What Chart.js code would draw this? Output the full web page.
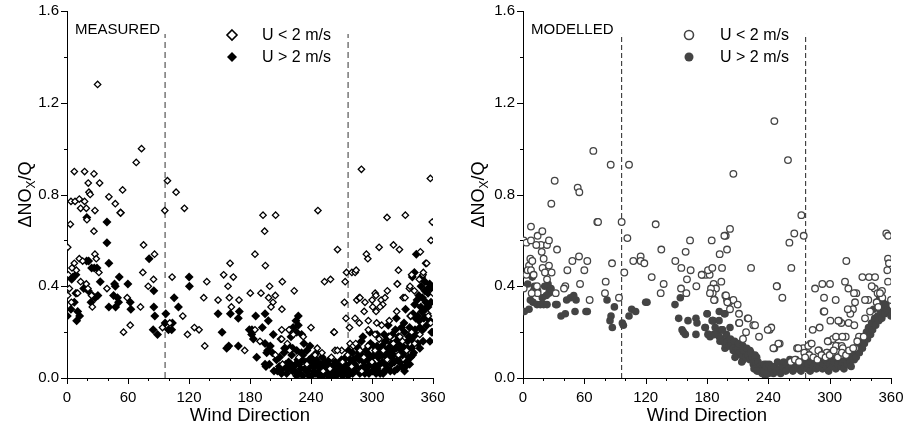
<!DOCTYPE html>
<html><head><meta charset="utf-8">
<script src="https://cdn.jsdelivr.net/npm/chart.js@4/dist/chart.umd.min.js"></script>
<style>
html,body{margin:0;padding:0;background:#fff;}
#wrap{position:relative;width:903px;height:430px;overflow:hidden;}
.box{position:absolute;top:0;height:430px;}
#b1{left:0;width:451px;} #b2{left:451px;width:452px;}
</style></head><body>
<div id="wrap"><div class="box" id="b1"><canvas id="c1" width="451" height="430"></canvas></div><div class="box" id="b2"><canvas id="c2" width="452" height="430"></canvas></div></div>
<script>
// ---- tick labels / categories ----
const xMajor=[0,60,120,180,240,300,360];
const xMinor=[20,40,80,100,140,160,200,220,260,280,320,340];
const yMajor=[0,0.4,0.8,1.2,1.6];
const yMinor=[0.2,0.6,1.0,1.4];
const dividerDirections=[96.5,276.5];
const dividerTop=1.5;
const seriesLabels=['U < 2 m/s','U > 2 m/s'];
const panelLabels=['MEASURED','MODELLED'];

// ---- MEASURED, U < 2 m/s  [wind direction, dNOx/Q] ----
const measuredCalm=[[0.7,0.57],[3.3,0.67],[3.9,0.77],[7.9,0.77],[7.2,0.90],[17.3,0.90],[26.5,0.89],[20.9,0.85],[32.1,0.85],[12.1,0.78],[17.3,0.77],[13.4,0.74],[19.0,0.74],[21.6,0.81],[22.8,0.80],[27.5,0.73],[41.2,0.79],[47.5,0.76],[54.7,0.82],[52.7,0.72],[30.1,1.28],[68.1,0.94],[73.3,1.00],[19.6,0.69],[26.5,0.64],
[1.3,0.45],[2.3,0.39],[0.7,0.36],[7.2,0.50],[4.9,0.48],[9.2,0.47],[12.1,0.52],[15.4,0.51],[13.4,0.42],[10.5,0.37],[19.0,0.41],[27.5,0.54],[28.8,0.52],[31.4,0.46],[24.9,0.31],[24.2,0.36],[39.3,0.39],[4.3,0.33],[20.6,0.39],
[75.3,0.58],[86.1,0.54],[74.6,0.46],[85.1,0.43],[79.9,0.40],[72.3,0.31],[55.6,0.20],[62.2,0.23],[59.2,0.35],
[96.2,0.73],[98.8,0.86],[107.3,0.81],[115.5,0.74],[103.4,0.44],[101.1,0.24],[93.9,0.22],[113.9,0.27],[118.5,0.19],[125.3,0.22],[129.9,0.21],[135.5,0.14],[134.5,0.35],[137.5,0.42],
[148.6,0.34],[154.1,0.45],[160.4,0.50],[158.4,0.40],[163.6,0.44],[159.7,0.35],[161.7,0.31],[169.2,0.34],[174.8,0.12],[184.9,0.54],[180.3,0.37],[190.8,0.37],[192.8,0.71],[194.4,0.64],[195.1,0.49],[205.2,0.71],[199.3,0.40],[198.3,0.35],[202.6,0.33],[204.9,0.36],[211.8,0.42],[211.4,0.30],[219.3,0.21],[223.5,0.38],[210.1,0.17],[216.7,0.15],
[200.7,0.31],[211.2,0.21],[211.2,0.17],[218.4,0.21],[222.6,0.19],[240.0,0.22],[232.4,0.18],[184.9,0.21],[189.8,0.16],
[246.8,0.73],[253.3,0.42],[259.2,0.43],[266.1,0.56],[262.5,0.20],[272.9,0.33],[273.6,0.42],[274.9,0.46],[277.9,0.22],[280.2,0.46],[283.4,0.46],[289.6,0.91],[284.4,0.47],[285.1,0.34],[287.4,0.35],[292.3,0.29],[294.5,0.54],[295.9,0.52],[300.1,0.34],[303.1,0.37],[307.0,0.57],[304.0,0.29],[309.0,0.34],[310.6,0.32],[314.8,0.70],[321.1,0.58],[327.0,0.56],[326.0,0.47],[325.0,0.41],[332.8,0.71],[336.8,0.39],[330.6,0.35],[339.4,0.45],[347.6,0.55],[341.7,0.38],[352.8,0.50],[350.2,0.45],[357.4,0.87],[359.3,0.68],[358.0,0.60],[360,0.37],[357.7,0.24],[354.8,0.28],
[274.4,0.26],[262.9,0.20],[246.2,0.13],[250.8,0.11],[278.4,0.15],[283.3,0.26],[287.5,0.24],[288.2,0.35],[293.1,0.33],[296.4,0.25],[300.7,0.31],[303.9,0.36],[307.9,0.31],[312.8,0.35],[315.1,0.38],[304.6,0.24],[309.5,0.23],[317.0,0.25],[303.0,0.19],[296.4,0.21],[324.3,0.29],[324.9,0.41],[332.5,0.35],[337.4,0.40],[339.0,0.45],[346.5,0.43],[350.5,0.46],[353.8,0.50],[355.4,0.27],[281.6,0.14],[258.7,0.04],[289.9,0.03],[299.7,0.12],[317.7,0.18],[321.0,0.15],[311.1,0.12],[327.5,0.18],[339.0,0.20],[288.2,0.12],[270.2,0.12],[263.6,0.12],
[205,0.10],[212,0.06],[219,0.12],[228,0.09],[236,0.06],[244,0.10],[252,0.03],[260,0.09],[266,0.12],[271,0.07],[276,0.10],[280,0.05],[284,0.15],[292,0.09],[296,0.14],[300,0.07],[303,0.12],[307,0.17],[315,0.08],[326,0.10],[330,0.16],[334,0.12],[338,0.27],[342,0.15],[347,0.19]];

// ---- MEASURED, U > 2 m/s ----
const measuredWindy=[[0.3,0.27],[3.9,0.30],[7.2,0.33],[9.5,0.25],[10.5,0.29],[12.4,0.27],[8.8,0.37],[5.9,0.44],[8.8,0.45],[4.6,0.43],[19.3,0.51],[21.3,0.51],[19.5,0.70],[16.4,0.39],[19.0,0.39],[20.9,0.38],[23.6,0.33],[24.9,0.36],[27.8,0.35],[30.4,0.36],[26.8,0.48],[29.5,0.48],[24.2,0.48],[32.7,0.42],[41.2,0.31],[39.3,0.68],[39.3,0.59],[41.2,0.50],[47.5,0.40],[45.8,0.36],[49.7,0.35],[47.8,0.31],[51.4,0.44],[50.7,0.33],[46.8,0.41],[52.7,0.72],[59.9,0.41],[62.2,0.33],[62.8,0.30],[80.8,0.52],[85.4,0.38],[85.4,0.31],[86.4,0.27],[84.8,0.21],[89.0,0.19],[97.2,0.28],[96.5,0.24],[103.7,0.24],[105.4,0.35],[109.6,0.31],[120.1,0.44],[120.4,0.40],[99.8,0.21],[103.0,0.21],
[148.6,0.28],[152.5,0.20],[157.1,0.13],[159.1,0.14],[160.7,0.28],[169.5,0.29],[168.5,0.26],[168.5,0.14],[179.3,0.21],[181.9,0.21],[181.6,0.19],[185.6,0.27],[194.8,0.28],[198.0,0.25],[192.1,0.22],[183.3,0.17],[186.6,0.09],[194.8,0.06],[194.8,0.15],[196.4,0.11],[202.9,0.19],[227.5,0.27],[227.5,0.23],[225.9,0.20],[230.8,0.19],[239.0,0.14],
[202,0.11],[199,0.06],[203.6,0.03],[195.7,0.05],[197.4,0.12],[200,0.14],[206,0.08],[208.8,0.05],[211,0.02],[213.4,0.11],[215.3,0.06],[218,0.14],[220.3,0.18],[222.5,0.22],[225.2,0.25],[221.9,0.03],[225.8,0.01],[228.4,0.06],[230.7,0.11],[233,0.15],[235.6,0.03],[238.3,0.08],[240.5,0.01],[242.8,0.05],[245.5,0.11],[247,0.02],[249.4,0.06],[252,0.01],[254.6,0.04],[257,0.01],[259.2,0.05],[261.8,0.00],[264.4,0.03],[266.7,0.06],[269,0.02],[271.6,0.05],[274.3,0.09],[276.5,0.01],[278.2,0.06],[280.8,0.11],[283,0.03],[285.4,0.14],[287.4,0.08],[289.6,0.16],[291.9,0.05],[293.9,0.12],[296.2,0.08],[298.5,0.15],[300.4,0.03],[302.7,0.11],[305,0.19],[307.6,0.06],[309.9,0.14],[312.2,0.03],[314.2,0.09],[316.5,0.18],[318.8,0.06],[320.7,0.12],[323,0.21],[325.3,0.08],[327.3,0.15],[329.6,0.05],[331.5,0.24],[333.8,0.12],[336.1,0.18],[338.1,0.09],[340.4,0.28],[342.3,0.21],[344.3,0.34],[346.3,0.25],[348.2,0.40],[350.2,0.16],[351.8,0.30],[355.1,0.37],[356.7,0.41],[360,0.20],[358.7,0.20],[349.6,0.35],[343.6,0.54],[341.7,0.46],[339.7,0.44],
[216,0.02],[218,0.07],[221,0.10],[223,0.05],[226,0.12],[229,0.02],[231,0.08],[234,0.04],[236,0.12],[239,0.05],[241,0.09],[244,0.02],[246,0.07],[249,0.03],[251,0.09],[253,0.05],[256,0.02],[258,0.08],[260,0.03],[263,0.06],[265,0.01],[268,0.04],[270,0.08],[273,0.02],[275,0.05],[277,0.12],[279,0.03],[282,0.08],[284,0.05],[286,0.13],[288,0.02],[290,0.10],[292,0.07],[295,0.03],[297,0.11],[299,0.06],[301,0.14],[303,0.04],[306,0.09],[308,0.13],[310,0.07],[313,0.16],[315,0.04],[317,0.11],[319,0.15],[322,0.07],[324,0.13],[326,0.18],[328,0.10],[330,0.14],[332,0.20],[334,0.07],[335,0.16],[337,0.22],[339,0.13],[341,0.19],[343,0.26],[345,0.15],[347,0.22],[349,0.29],[351,0.26],[353,0.33],[354,0.23],
[225,0.06],[232,0.01],[237,0.03],[242,0.07],[248,0.01],[254,0.07],[259,0.02],[262,0.05],[267,0.03],[271,0.01],[274,0.06],[278,0.04],[281,0.02],[285,0.09],[289,0.04],[293,0.02],[296,0.05],[300,0.09],[304,0.02],[307,0.11],[311,0.02],[314,0.12],[318,0.03],[321,0.10],[325,0.04],[329,0.12],[333,0.05],[336,0.09],[340,0.10],
[291,0.18],[298,0.20],[305,0.14],[312,0.19],[316,0.23],[320,0.19],[324,0.26],[329,0.22],[333,0.30],[338,0.27],[342,0.32],[346,0.36],[349,0.44],[352,0.42],[355,0.39],[358,0.33],[357,0.16],
[207,0.03],[209,0.09],[212,0.04],[214,0.13],[217,0.04],[220,0.06],[222,0.13],[224,0.03],[227,0.08],[230,0.04],[232,0.10],[235,0.07],[238,0.01],[240,0.06],[243,0.03],[245,0.08],[247,0.05],[250,0.02],[253,0.03],[255,0.06],[257,0.04],[261,0.02],[264,0.07],[266,0.02],[269,0.06],[272,0.04],[276,0.03],[279,0.08],[283,0.06],[287,0.11],[290,0.03],[294,0.09],[297,0.02],[299,0.12],[302,0.06],[305,0.04],[308,0.02],[310,0.10],[313,0.06],[316,0.13],[319,0.09],[322,0.03],[324,0.16],[327,0.07],[330,0.10],[332,0.03],[335,0.13],[337,0.06],[339,0.17],[341,0.11],[343,0.19],[345,0.27],[347,0.13],[348,0.31],[350,0.21],[352,0.38],[353,0.27],[355,0.31],[357,0.25],[359,0.39]];

// ---- MODELLED, U < 2 m/s ----
const modelledCalm=[[0.7,0.60],[3.3,0.59],[7.8,0.66],[7.8,0.60],[14.3,0.62],[18.9,0.64],[17.6,0.58],[13.0,0.58],[23.5,0.58],[25.4,0.60],[33.3,0.56],[20.2,0.52],[18.3,0.55],[0.7,0.39],[3.3,0.45],[5.9,0.49],[7.2,0.52],[9.1,0.51],[4.6,0.47],[7.8,0.47],[10.4,0.45],[13.7,0.40],[14.3,0.37],[8.5,0.37],[19.2,0.48],[25.4,0.49],[21.5,0.46],[28.0,0.46],[23.5,0.43],[27.7,0.76],[31.0,0.86],[53.5,0.83],[55.1,0.81],[68.8,0.99],[85.8,0.93],[103.7,0.93],[72.7,0.68],[73.4,0.68],[96.5,0.68],[102.1,0.61],[93.9,0.35],[99.1,0.46],[32.0,0.37],[41.4,0.40],[40.1,0.39],[43.4,0.47],[48.3,0.51],[55.8,0.41],[54.8,0.53],[60.0,0.47],[62.9,0.51],[65.2,0.34],[80.2,0.37],[80.9,0.42],[87.1,0.50],[107.9,0.51],[115.1,0.53],[115.1,0.51],[118.7,0.50],[125.9,0.44],[129.8,0.67],[135.3,0.56],[134.7,0.37],[137.6,0.41],[149.0,0.51],[154.9,0.48],[159.1,0.55],[163.4,0.60],[164.0,0.47],[160.4,0.43],[159.8,0.37],[169.6,0.40],[175.4,0.45],[179.0,0.45],[182.6,0.45],[184.6,0.60],[181.0,0.47],[185.2,0.48],[186.5,0.41],[188.8,0.39],[187.5,0.34],[185.6,0.37],[194.7,0.48],[192.4,0.54],[198.3,0.62],[202.5,0.65],[199.6,0.56],[197.0,0.62],[194.0,0.42],[197.9,0.36],[199.6,0.34],[201.5,0.33],[205.8,0.34],[210.0,0.32],[211.3,0.28],[211.3,0.24],[215.2,0.17],[205.8,0.89],[223.1,0.48],[219.8,0.26],[225.3,0.23],[230.9,0.18],[241.3,0.21],[242.9,0.22],[245.9,1.12],[248.5,0.40],[245.9,0.13],[251.1,0.15],[253.7,0.35],[259.2,0.95],[260.6,0.59],[262.5,0.48],[265.4,0.63],[272.3,0.71],[274.6,0.62],[268.1,0.13],[274.2,0.13],[277.5,0.11],[281.4,0.15],[283.4,0.21],[285.7,0.39],[290.2,0.22],[289.6,0.12],[292.8,0.41],[294.1,0.29],[294.5,0.35],[300.3,0.41],[300.7,0.25],[305.9,0.34],[299.0,0.16],[303.3,0.17],[306.2,0.18],[307.5,0.14],[297.7,0.11],[302.3,0.11],[316.3,0.51],[315.0,0.42],[318.3,0.39],[326.1,0.37],[324.8,0.33],[322.8,0.30],[332.0,0.44],[338.5,0.44],[344.4,0.44],[337.8,0.34],[344.0,0.39],[346.9,0.37],[351.5,0.35],[355.4,0.63],[357.1,0.62],[357.1,0.52],[358.0,0.50],[356.4,0.47],[357.1,0.42],[360,0.34],[351.2,0.38],[320.2,0.28],[318.6,0.24],[311.4,0.24],[309.1,0.25],[315.7,0.18],[324.1,0.23],[328.7,0.18],[333.3,0.18],
[297.1,0.11],[312.4,0.18],[306.2,0.14],[311.8,0.14],[317.7,0.30],[308.5,0.25],[294.8,0.29],[323.8,0.37],[341.1,0.40],[334.6,0.34],[349.2,0.37],[346.0,0.33],[347.6,0.31],[339.5,0.29],[334.6,0.26],[298.1,0.16],[312.8,0.13],[324.8,0.13],[311.1,0.10],[288.9,0.12],[279.1,0.14],[282.4,0.15],[275.2,0.11],[269.3,0.13],[249.8,0.15],[244.9,0.13],[239.4,0.21],[248.2,0.40],
[154.6,0.39],[174.8,0.45],[183.9,0.39],[182.9,0.37],[186.9,0.34],[198.6,0.36],[199.9,0.33],[202.5,0.30],[211.6,0.24],[220.4,0.26],[218.2,0.20],[227.0,0.23],
[280,0.10],[284,0.09],[288,0.08],[292,0.10],[296,0.09],[300,0.10],[304,0.12],[308,0.09],[312,0.11],[316,0.10],[319,0.12],[323,0.13],[327,0.16],[262,0.07],[266,0.08],[270,0.07],[276,0.09]];

// ---- MODELLED, U > 2 m/s ----
const modelledWindy=[[1.3,0.29],[5.9,0.30],[7.2,0.34],[9.8,0.33],[13.7,0.32],[17.0,0.32],[20.2,0.32],[23.5,0.32],[27.4,0.39],[25.4,0.37],[32.0,0.32],[33.3,0.32],[37.2,0.27],[41.4,0.28],[42.7,0.34],[46.3,0.35],[50.9,0.29],[51.9,0.34],[49.6,0.36],[61.6,0.29],[62.9,0.29],[7.2,0.46],[9.1,0.44],[11.1,0.40],[10.4,0.38],[21.2,0.40],[24.5,0.41],[25.8,0.38],[22.8,0.36],[18.9,0.35],[14.3,0.38],[4.6,0.41],[82.2,0.34],[86.1,0.27],[85.1,0.25],[87.4,0.22],[89.4,0.31],[97.2,0.24],[98.2,0.23],[103.7,0.27],[106.3,0.30],[110.2,0.29],[120.0,0.33],[121.3,0.33],[148.7,0.32],[152.3,0.26],[153.9,0.35],[155.6,0.21],[156.9,0.20],[158.8,0.19],[161.4,0.25],[169.2,0.26],[170.2,0.24],[169.2,0.19],[180.3,0.28],[185.6,0.25],[192.0,0.29],[191.8,0.25],[197.6,0.28],[178.4,0.22],[181.3,0.19],[183.0,0.18],[186.9,0.19],[195.0,0.21],[202.5,0.22],[192.7,0.16],[197.6,0.15],[202.5,0.14],[197.6,0.13],[205.7,0.12],[212.3,0.10],[207.4,0.09],[215.5,0.08],[222.1,0.09],[214.0,0.07],[225.3,0.06],[228.6,0.05],[233.5,0.04],[236.8,0.03],[228.6,0.09],[222.1,0.12],[214.0,0.11],[238.4,0.06],[240.0,0.02],
[186,0.25],[188,0.22],[190,0.20],[192,0.18],[194,0.17],[196,0.16],[198,0.15],[200,0.16],[202,0.14],[204,0.15],[206,0.13],[208,0.12],[210,0.13],[212,0.11],[214,0.10],[216,0.12],[218,0.09],[220,0.10],[222,0.08],[224,0.09],[226,0.07],[228,0.06],[230,0.07],[232,0.05],[234,0.04],[236,0.06],[238,0.03],[240,0.04],[231,0.03],[234,0.02],[237,0.01],[239,0.02],[226,0.04],[229,0.03],
[194,0.21],[199,0.19],[203,0.17],[207,0.16],[211,0.15],[215,0.14],[219,0.13],[223,0.11],[227,0.10],[180,0.28],[185,0.25],[197,0.28],[195,0.21],[181,0.19],[187,0.19],[178,0.22],
[236,0.03],[238,0.05],[241,0.06],[243,0.04],[245,0.02],[246,0.05],[248,0.03],[249,0.07],[251,0.04],[252,0.02],[254,0.05],[255,0.07],[257,0.03],[258,0.06],[260,0.04],[261,0.08],[263,0.05],[264,0.03],[266,0.06],[267,0.08],[269,0.04],[270,0.06],[272,0.03],[273,0.07],[275,0.05],[276,0.08],[278,0.04],[279,0.06],[281,0.03],[282,0.07],[284,0.05],[285,0.08],[287,0.04],[288,0.06],[290,0.05],[291,0.07],[293,0.04],[294,0.06],[296,0.08],[297,0.05],[299,0.03],[300,0.06],[302,0.08],[303,0.05],[305,0.07],[306,0.04],[308,0.06],[309,0.09],[311,0.05],[312,0.07],[314,0.04],[315,0.08],[317,0.06],[318,0.09],[320,0.07],[321,0.05],[322,0.10],[324,0.08],[325,0.12],[326,0.09],[328,0.14],[329,0.11],[330,0.16],[332,0.13],[333,0.18],[334,0.15],[336,0.20],[337,0.17],[338,0.22],[340,0.19],[341,0.24],[342,0.21],[344,0.26],[345,0.23],[347,0.27],[348,0.25],[350,0.29],[351,0.26],[353,0.31],[354,0.28],[356,0.30],[358,0.29],[360,0.27],
[343,0.30],[346,0.33],[349,0.35],[352,0.33],[355,0.32]];

Chart.defaults.font.family='"Liberation Sans", Arial, Helvetica, sans-serif';
Chart.defaults.color='#000';

function drawMarker(ctx, style, x, y, r, fill, stroke, lw){
  ctx.beginPath();
  if(style==='rectRot'){ctx.moveTo(x,y-r);ctx.lineTo(x+r,y);ctx.lineTo(x,y+r);ctx.lineTo(x-r,y);ctx.closePath();}
  else {ctx.arc(x,y,r,0,Math.PI*2);}
  ctx.fillStyle=fill; ctx.fill();
  if(lw>0){ctx.lineWidth=lw;ctx.strokeStyle=stroke;ctx.stroke();}
}

function buildChart(id, o){
  const deco={
    id:'deco',
    afterDraw(chart){
      const {ctx, scales:{x,y}, chartArea:ca}=chart;
      ctx.save();
      ctx.strokeStyle='#000'; ctx.lineWidth=1;
      xMajor.concat(xMinor).forEach(v=>{
        const p=Math.round(x.getPixelForValue(v))+0.5, L=xMajor.includes(v)?6:3;
        ctx.beginPath(); ctx.moveTo(p,ca.bottom); ctx.lineTo(p,ca.bottom+L); ctx.stroke();
      });
      yMajor.concat(yMinor).forEach(v=>{
        const p=Math.round(y.getPixelForValue(v))+0.5, L=yMajor.includes(v)?6:3;
        ctx.beginPath(); ctx.moveTo(ca.left,p); ctx.lineTo(ca.left-L,p); ctx.stroke();
      });
      // y title with subscript
      ctx.translate(o.yTitleX,(ca.top+ca.bottom)/2); ctx.rotate(-Math.PI/2);
      ctx.fillStyle='#000'; ctx.textBaseline='alphabetic';
      const big='18px "Liberation Sans", Arial, sans-serif', small='12px "Liberation Sans", Arial, sans-serif';
      ctx.font=big; const w1=ctx.measureText('\u0394NO').width, w3=ctx.measureText('/Q').width;
      ctx.font=small; const w2=ctx.measureText('X').width;
      let sx=-(w1+w2+w3)/2;
      ctx.font=big; ctx.fillText('\u0394NO',sx,6); sx+=w1;
      ctx.font=small; ctx.fillText('X',sx,10); sx+=w2;
      ctx.font=big; ctx.fillText('/Q',sx,6);
      ctx.setTransform(1,0,0,1,0,0);
      // panel label
      ctx.font='15px "Liberation Sans", Arial, sans-serif'; ctx.textBaseline='alphabetic';
      ctx.fillText(o.panel, ca.left+o.panelDX, 34);
      // legend
      ctx.font='16px "Liberation Sans", Arial, sans-serif'; ctx.textBaseline='middle';
      const lx=ca.left+o.legDX;
      drawMarker(ctx,o.style,lx,35,o.legR,'#fff',o.color,1.6);
      ctx.fillStyle='#000'; ctx.fillText(seriesLabels[0],lx+o.legText,36);
      drawMarker(ctx,o.style,lx,57,o.legR,o.color,o.color,0);
      ctx.fillStyle='#000'; ctx.fillText(seriesLabels[1],lx+o.legText,58);
      ctx.restore();
    }
  };
  const ds=dividerDirections.map(d=>({type:'line',data:[{x:d,y:0},{x:d,y:dividerTop}],borderColor:o.dashColor,borderWidth:o.dashWidth,borderDash:o.dash,pointRadius:0,fill:false,order:3}));
  ds.push({label:seriesLabels[1],data:o.windy.map(([a,b])=>({x:a,y:b})),pointStyle:o.style,pointRadius:o.fillR,backgroundColor:o.color,borderColor:o.color,borderWidth:0,order:2});
  ds.push({label:seriesLabels[0],data:o.calm.map(([a,b])=>({x:a,y:b})),pointStyle:o.style,pointRadius:o.openR,backgroundColor:'#fff',borderColor:o.color,borderWidth:o.openW,order:1});
  return new Chart(document.getElementById(id),{
    type:'scatter',
    data:{datasets:ds},
    plugins:[deco],
    options:{
      responsive:false, animation:false, events:[],
      layout:{padding:{top:11,right:o.rightPad,left:0,bottom:0}},
      plugins:{legend:{display:false},tooltip:{enabled:false}},
      scales:{
        x:{type:'linear',min:0,max:360,
          afterBuildTicks:s=>{s.ticks=xMajor.map(v=>({value:v}));},
          ticks:{autoSkip:false,maxRotation:0,padding:11,font:{size:15},callback:v=>String(v)},
          grid:{display:false,drawTicks:false},
          border:{display:true,color:'#000',width:1},
          title:{display:true,text:'Wind Direction',font:{size:18.5},padding:{top:0,bottom:3}},
          afterFit:s=>{s.height=52;s.paddingLeft=0;s.paddingRight=0;}},
        y:{type:'linear',min:0,max:1.6,
          afterBuildTicks:s=>{s.ticks=yMajor.map(v=>({value:v}));},
          ticks:{padding:8,font:{size:15},callback:v=>Number(v).toFixed(1)},
          grid:{display:false,drawTicks:false},
          border:{display:true,color:'#000',width:1},
          afterFit:s=>{s.width=o.yWidth;s.paddingTop=0;s.paddingBottom=0;}}
      }
    }
  });
}

buildChart('c1',{calm:measuredCalm,windy:measuredWindy,style:'rectRot',color:'#000',openR:3.2,openW:1.3,fillR:4.5,legR:5,legDX:165,legText:30,
  yWidth:67,rightPad:18,yTitleX:25,panel:panelLabels[0],panelDX:8,dashColor:'#777',dashWidth:1.5,dash:[6,4]});
buildChart('c2',{calm:modelledCalm,windy:modelledWindy,style:'circle',color:'#444',openR:3.3,openW:1.3,fillR:3.8,legR:4.5,legDX:166,legText:31,
  yWidth:72,rightPad:12,yTitleX:27,panel:panelLabels[1],panelDX:8,dashColor:'#222',dashWidth:1,dash:[5,3]});
</script>
</body></html>
